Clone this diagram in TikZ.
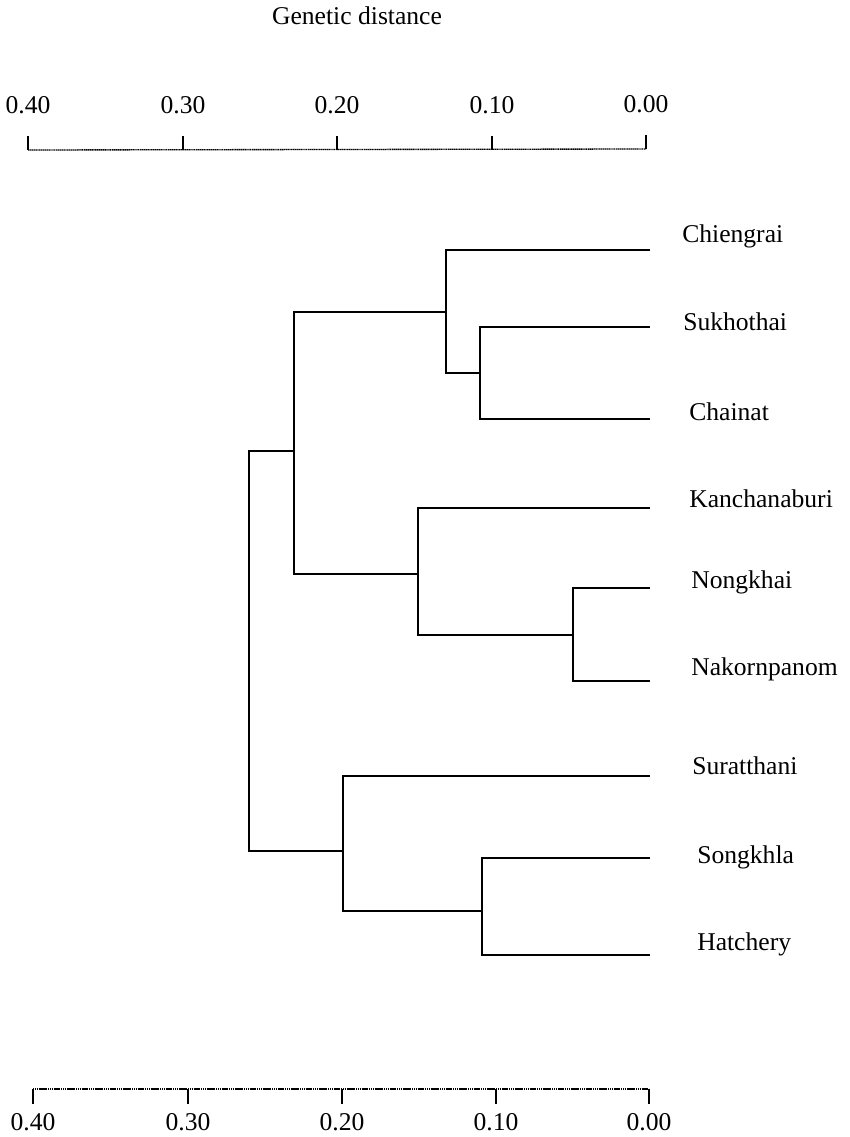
\documentclass[tikz,border=0pt]{standalone}
\usepackage{fontspec}
\setmainfont{Liberation Serif}
\begin{document}
\begin{tikzpicture}[x=0.75pt,y=-0.75pt,
  branch/.style={line width=1.1pt,line join=miter},
  axisline/.style={line width=1pt,dash pattern=on 1pt off 0.4pt},
  tickmark/.style={line width=1.2pt},
  lab/.style={anchor=base west,inner sep=0pt,font=\fontsize{19.2}{22}\selectfont},
  num/.style={anchor=base,inner sep=0pt,font=\fontsize{19.2}{22}\selectfont}]
\useasboundingbox (0,0) rectangle (849,1137);
% title
\node[num] (title) at (357,24.5) {Genetic distance};
% top axis
\coordinate (ta0) at (28,150);
\coordinate (ta1) at (183,150);
\coordinate (ta2) at (337,150);
\coordinate (ta3) at (492,150);
\coordinate (ta4) at (646,149);
\draw[axisline] (ta0) -- (ta4);
\foreach \n/\v in {ta0/0.40,ta1/0.30,ta2/0.20,ta3/0.10,ta4/0.00}{
  \draw[tickmark] (\n) -- ++(0,-14);
  \node[num] (lab\n) at ([yshift=27pt]\n) {\v};
}
% bottom axis
\coordinate (ba0) at (33,1089);
\coordinate (ba1) at (188,1089);
\coordinate (ba2) at (342,1089);
\coordinate (ba3) at (496,1089);
\coordinate (ba4) at (649,1089);
\draw[axisline] (ba0) -- (ba4);
\foreach \n/\v in {ba0/0.40,ba1/0.30,ba2/0.20,ba3/0.10,ba4/0.00}{
  \draw[tickmark] (\n) -- ++(0,15);
  \node[num] (lab\n) at ([yshift=-30.75pt]\n) {\v};
}
% leaves
\coordinate (L1) at (650,250);
\coordinate (L2) at (650,327);
\coordinate (L3) at (650,419);
\coordinate (L4) at (650,508);
\coordinate (L5) at (650,588);
\coordinate (L6) at (650,681);
\coordinate (L7) at (650,776);
\coordinate (L8) at (650,858);
\coordinate (L9) at (650,955);
% labels
\node[lab] (t1) at (682,243) {Chiengrai};
\node[lab] (t2) at (683,330) {Sukhothai};
\node[lab] (t3) at (689,420) {Chainat};
\node[lab] (t4) at (689,507) {Kanchanaburi};
\node[lab] (t5) at (691,588) {Nongkhai};
\node[lab] (t6) at (691,675) {Nakornpanom};
\node[lab] (t7) at (692,774) {Suratthani};
\node[lab] (t8) at (697,863) {Songkhla};
\node[lab] (t9) at (697,950) {Hatchery};
% internal nodes (junction points)
\coordinate (nA) at (480,373);
\coordinate (nB) at (446,312);
\coordinate (nE) at (573,635);
\coordinate (nD) at (418,574);
\coordinate (nC) at (294,451);
\coordinate (nG) at (482,911);
\coordinate (nF) at (343,851);
\coordinate (nR) at (249,650);
% branches
\draw[branch] (L2) -| (nA) |- (L3);
\draw[branch] (L1) -| (nB) |- (nA);
\draw[branch] (L5) -| (nE) |- (L6);
\draw[branch] (L4) -| (nD) |- (nE);
\draw[branch] (nB) -| (nC) |- (nD);
\draw[branch] (L8) -| (nG) |- (L9);
\draw[branch] (L7) -| (nF) |- (nG);
\draw[branch] (nC) -| (nR) |- (nF);
\end{tikzpicture}
\end{document}
